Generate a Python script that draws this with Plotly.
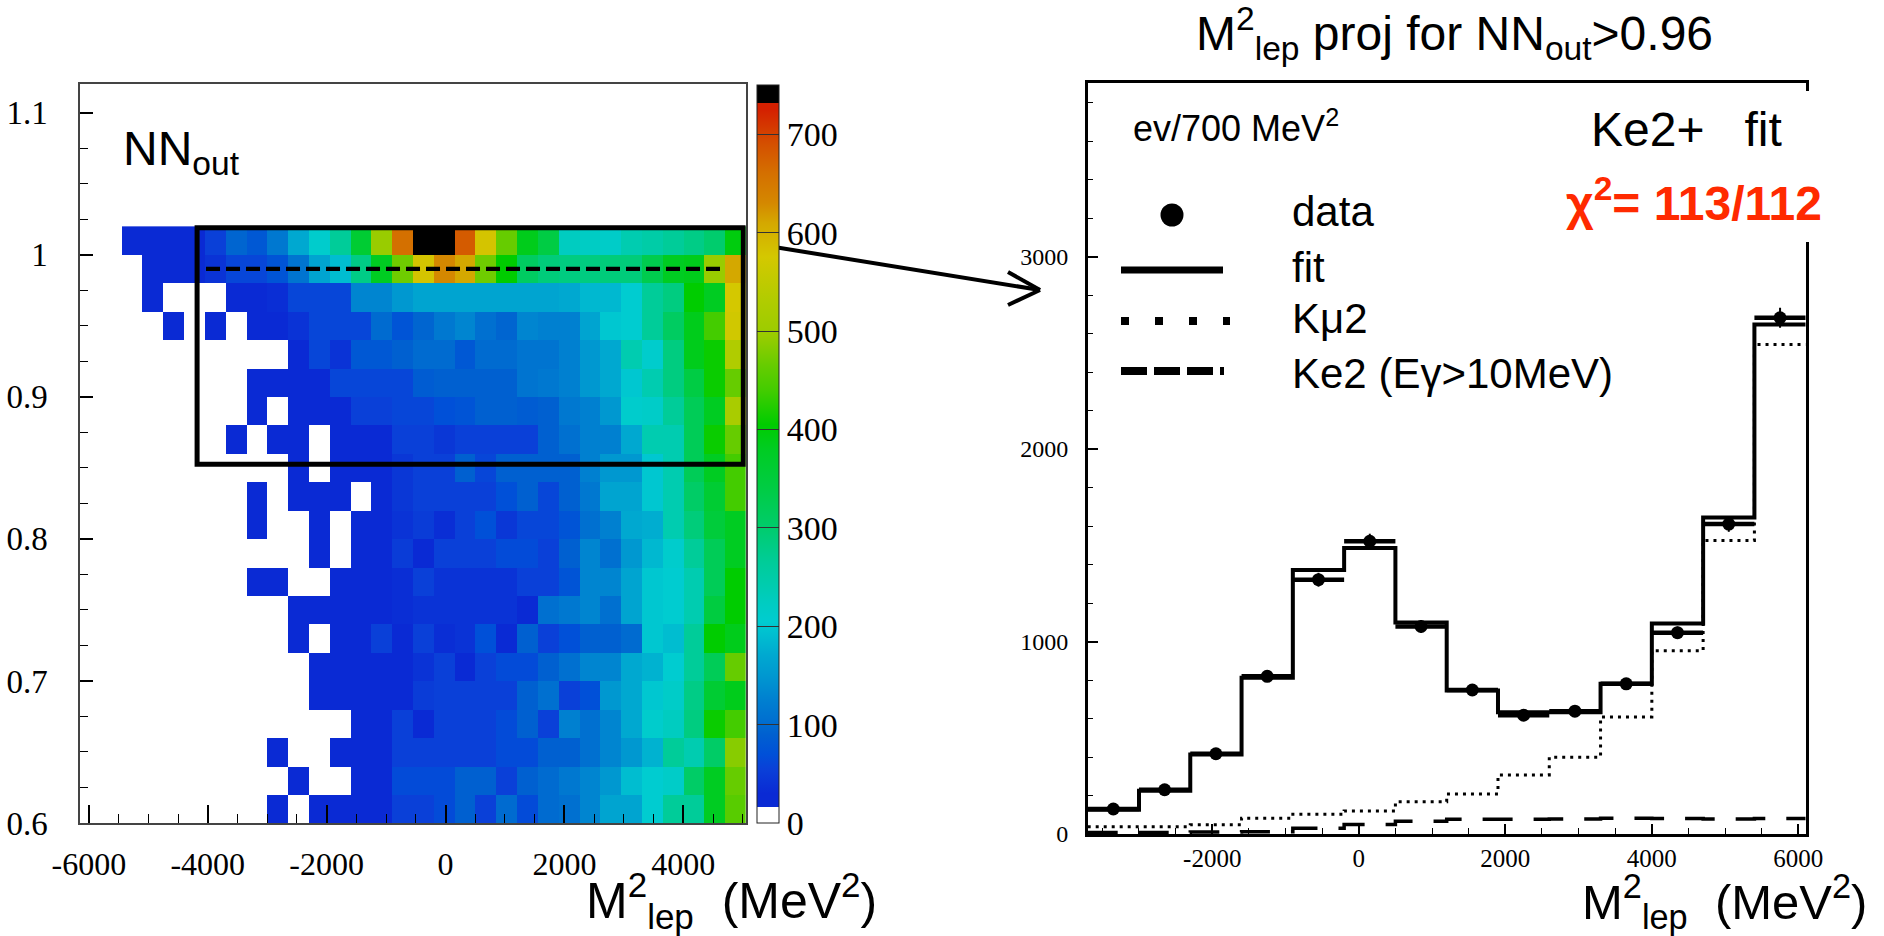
import plotly.graph_objects as go

W, H = 1884, 936


def px(x):
    return x / W


def py(y):
    return 1 - y / H


N = None
# ---------------- left panel: NN_out vs M2_lep (2D histogram) ----------------
m2_edges = [-6150, -5800, -5450, -5100, -4750, -4400, -4050, -3700, -3350, -3000,
            -2650, -2300, -1950, -1600, -1250, -900, -550, -200, 150, 500, 850,
            1200, 1550, 1900, 2250, 2600, 2950, 3300, 3650, 4000, 4350, 4700, 5050]
nn_edges = [0.60, 0.62, 0.64, 0.66, 0.68, 0.70, 0.72, 0.74, 0.76, 0.78, 0.80,
            0.82, 0.84, 0.86, 0.88, 0.90, 0.92, 0.94, 0.96, 0.98, 1.00, 1.02]

row00 = [N]*9 + [30, N, 30, 30, 30, 30, 55, 55, 65, 90, 55, 100, 65, 100, 105, 130, 165, 165, 205, 265, 265, 380, 455]
row01 = [N]*10 + [30, N, N, 30, 30, 65, 65, 65, 90, 90, 55, 90, 100, 115, 130, 150, 190, 205, 215, 305, 380, 465]
row02 = [N]*9 + [30, N, N, 30, 30, 30, 55, 55, 55, 55, 55, 65, 65, 90, 90, 105, 130, 150, 180, 265, 240, 305, 485]
row03 = [N]*13 + [30, 30, 55, 30, 55, 55, 55, 65, 90, 55, 125, 105, 130, 170, 210, 225, 285, 410, 440]
row04 = [N]*11 + [30, 30, 30, 30, 30, 50, 55, 55, 55, 55, 90, 105, 55, 70, 150, 170, 200, 215, 280, 360, 385]
row05 = [N]*11 + [30, 30, 30, 30, 30, 40, 55, 30, 55, 65, 65, 90, 105, 130, 130, 170, 180, 205, 265, 320, 465]
row06 = [N]*10 + [30, N, 30, 30, 55, 30, 55, 35, 40, 70, 30, 90, 55, 70, 90, 90, 100, 200, 190, 265, 405, 385]
row07 = [N]*10 + [30, 30, 30, 30, 30, 35, 40, 40, 40, 40, 40, 30, 105, 115, 130, 105, 165, 200, 205, 240, 345, 405]
row08 = [N]*8 + [30, 30, N, N, 30, 30, 30, 35, 55, 40, 40, 40, 40, 55, 55, 75, 130, 130, 165, 200, 205, 240, 320, 405]
row09 = [N]*11 + [30, N, 30, 30, 50, 30, 55, 55, 55, 65, 65, 55, 90, 130, 105, 150, 185, 210, 265, 320, 380]
row10 = [N]*8 + [30, N, N, 30, N, 30, 30, 40, 50, 35, 55, 70, 45, 60, 60, 75, 105, 125, 170, 175, 240, 290, 350, 380]
row11 = [N]*8 + [30, N, 30, 30, 30, N, 30, 45, 55, 55, 55, 55, 70, 90, 60, 90, 115, 165, 165, 200, 240, 305, 360, 440]
row12 = [N]*10 + [30, N, 30, 30, 30, 45, 55, 55, 90, 60, 90, 90, 90, 90, 125, 150, 150, 200, 240, 320, 380, 440]
row13 = [N]*7 + [30, N, 30, 30, N, 30, 30, 30, 55, 55, 45, 55, 55, 55, 55, 90, 105, 125, 125, 170, 240, 240, 320, 410, 465]
row14 = [N]*8 + [30, N, 30, 30, 30, 55, 55, 60, 60, 70, 75, 90, 90, 85, 90, 115, 125, 150, 210, 215, 265, 320, 380, 520]
row15 = [N]*8 + [30, 30, 30, 30, 60, 60, 60, 60, 85, 90, 90, 90, 90, 110, 115, 125, 150, 170, 200, 240, 285, 340, 410, 465]
row16 = [N]*10 + [30, 60, 40, 80, 80, 90, 100, 100, 80, 100, 100, 110, 110, 125, 150, 170, 240, 210, 285, 385, 410, 530]
row17 = [N]*4 + [30, N, 30, N, 30, 30, 40, 60, 60, 60, 100, 75, 95, 115, 130, 105, 95, 130, 125, 125, 165, 200, 205, 265, 310, 385, 440, 570]
row18 = [N]*3 + [30, N, N, N, 30, 30, 35, 60, 60, 60, 130, 130, 150, 165, 165, 165, 165, 165, 165, 165, 170, 185, 185, 205, 265, 285, 405, 380, 575]
row19 = [N]*3 + [30, 30, 30, 40, 60, 60, 75, 110, 165, 190, 280, 380, 470, 580, 630, 610, 470, 405, 310, 290, 285, 285, 290, 290, 330, 380, 385, 495, 610]
row20 = [N]*2 + [30, 30, 30, 30, 55, 95, 80, 115, 170, 210, 265, 360, 495, 660, 745, 745, 680, 580, 465, 385, 340, 225, 220, 215, 240, 250, 265, 280, 300, 395]

counts = [row00, row01, row02, row03, row04, row05, row06, row07, row08, row09, row10,
          row11, row12, row13, row14, row15, row16, row17, row18, row19, row20]

cbar_ticks = [0, 100, 200, 300, 400, 500, 600, 700]
left_xticks = [-6000, -4000, -2000, 0, 2000, 4000]
left_xticktext = ["-6000", "-4000", "-2000", "0", "2000", "4000"]
left_yticks = [0.6, 0.7, 0.8, 0.9, 1.0, 1.1]
left_yticktext = ["0.6", "0.7", "0.8", "0.9", "1", "1.1"]

# ---------------- right panel: projection for NN_out > 0.96 ----------------
proj_edges = [-3700, -3000, -2300, -1600, -900, -200, 500, 1200, 1900, 2600,
              3300, 4000, 4700, 5400, 6100]
proj_centers = [-3350, -2650, -1950, -1250, -550, 150, 850, 1550, 2250, 2950,
                3650, 4350, 5050, 5750]
data_counts = [130, 230, 417, 819, 1321, 1521, 1078, 748, 617, 638, 780, 1046, 1610, 2682]
data_errors = [11, 15, 20, 29, 36, 39, 33, 27, 25, 25, 28, 32, 40, 52]
fit_counts = [126, 225, 413, 812, 1371, 1486, 1099, 745, 633, 633, 780, 1094, 1644, 2647]
kmu2_counts = [38, 38, 48, 82, 102, 120, 168, 208, 307, 399, 608, 952, 1525, 2543]
ke2_counts = [8, 8, 10, 12, 30, 50, 66, 76, 76, 78, 82, 80, 78, 80]
half_bin = [350] * len(proj_centers)
right_xticks = [-2000, 0, 2000, 4000, 6000]
right_xticktext = ["-2000", "0", "2000", "4000", "6000"]
right_yticks = [0, 1000, 2000, 3000]

colorscale = [
    [0.0, "#ffffff"], [0.022, "#ffffff"], [0.0221, "#0a2ad4"], [0.04, "#0a2ad4"],
    [0.073, "#0a40d8"], [0.093, "#0050d8"], [0.12, "#0060d0"], [0.14, "#0070d0"],
    [0.167, "#0080d0"], [0.2, "#0098d0"], [0.227, "#00a8d0"], [0.247, "#00b8d0"],
    [0.273, "#00ccd0"], [0.3, "#00ccc0"], [0.32, "#00ccb0"], [0.353, "#00cc99"],
    [0.38, "#00cc80"], [0.407, "#00cc66"], [0.453, "#00cc44"], [0.507, "#00cc22"],
    [0.54, "#00cc00"], [0.587, "#44cc00"], [0.62, "#66cc00"], [0.66, "#99cc00"],
    [0.707, "#b0cc00"], [0.767, "#d4c800"], [0.813, "#d4a800"], [0.84, "#d48800"],
    [0.88, "#d47000"], [0.92, "#d45000"], [0.967, "#d42000"], [0.975, "#d42000"],
    [0.976, "#000000"], [1.0, "#000000"],
]

SERIF = "Liberation Serif, Times New Roman, serif"
SANS = "Liberation Sans, Arial, sans-serif"

fig = go.Figure()

fig.add_trace(go.Heatmap(
    x=m2_edges, y=nn_edges, z=counts, zmin=0, zmax=750,
    colorscale=colorscale, xaxis="x", yaxis="y", hoverongaps=False,
    colorbar=dict(
        x=px(757), xanchor="left", xpad=0, ypad=0,
        y=py(823), yanchor="bottom", len=(823 - 85) / H, lenmode="fraction",
        thickness=22, thicknessmode="pixels",
        outlinewidth=1, outlinecolor="#222",
        tickvals=cbar_ticks, ticks="inside", ticklen=22, tickwidth=1.2, tickcolor="#333",
        tickfont=dict(family=SERIF, size=34, color="black"),
    ),
))

# fit step
fig.add_trace(go.Scatter(
    x=proj_edges, y=fit_counts + [fit_counts[-1]], mode="lines", line_shape="hv",
    line=dict(color="black", width=4), xaxis="x2", yaxis="y2", name="fit"))
# K mu 2
fig.add_trace(go.Scatter(
    x=proj_edges, y=kmu2_counts + [kmu2_counts[-1]], mode="lines", line_shape="hv",
    line=dict(color="black", width=3, dash="3px,5px"), xaxis="x2", yaxis="y2", name="Kμ2"))
# Ke2
fig.add_trace(go.Scatter(
    x=proj_edges, y=ke2_counts + [ke2_counts[-1]], mode="lines", line_shape="hv",
    line=dict(color="black", width=3.5, dash="30px,21px"), xaxis="x2", yaxis="y2",
    name="Ke2 (Eγ>10MeV)"))
# data
fig.add_trace(go.Scatter(
    x=proj_centers, y=data_counts, mode="markers",
    marker=dict(color="black", size=13, symbol="circle"),
    error_x=dict(type="data", array=half_bin, color="black", thickness=4.5, width=0),
    error_y=dict(type="data", array=data_errors, color="black", thickness=2, width=0),
    xaxis="x2", yaxis="y2", name="data"))

axis_common = dict(showgrid=False, zeroline=False, showline=True, mirror=True,
                   ticks="inside", tickcolor="black", automargin=False)

fig.update_layout(
    width=W, height=H, margin=dict(l=0, r=0, t=0, b=0, pad=0, autoexpand=False),
    paper_bgcolor="white", plot_bgcolor="white", showlegend=False,
    xaxis=dict(domain=[px(80), px(745.7)], range=[-6150, 5050], anchor="y",
               tickvals=left_xticks, ticktext=left_xticktext, ticklen=18, tickwidth=1.5,
               ticklabelstandoff=12,
               minor=dict(dtick=500, tick0=0, ticklen=9, tickwidth=1.2, ticks="inside", tickcolor="black"),
               linecolor="#444", linewidth=1.5,
               tickfont=dict(family=SERIF, size=32, color="black"), **axis_common),
    yaxis=dict(domain=[py(823), py(84.3)], range=[0.6, 1.12], anchor="x",
               tickvals=left_yticks, ticktext=left_yticktext, ticklen=13, tickwidth=1.5,
               ticklabelstandoff=24,
               minor=dict(dtick=0.025, tick0=0.6, ticklen=8, tickwidth=1.2, ticks="inside", tickcolor="black"),
               linecolor="#444", linewidth=1.5,
               tickfont=dict(family=SERIF, size=33, color="black"), **axis_common),
    xaxis2=dict(domain=[px(1087.7), px(1805.7)], range=[-3700, 6100], anchor="y2",
                tickvals=right_xticks, ticktext=right_xticktext, ticklen=10, tickwidth=1.5,
                ticklabelstandoff=0,
                minor=dict(dtick=500, tick0=0, ticklen=6, tickwidth=1.2, ticks="inside", tickcolor="black"),
                linecolor="black", linewidth=2.5,
                tickfont=dict(family=SERIF, size=25, color="black"), **axis_common),
    yaxis2=dict(domain=[py(834), py(83.3)], range=[0, 3900], anchor="x2",
                tickvals=right_yticks, ticklen=11, tickwidth=1.5,
                ticklabelstandoff=12,
                minor=dict(dtick=200, tick0=0, ticklen=6, tickwidth=1.2, ticks="inside", tickcolor="black"),
                linecolor="black", linewidth=2.5,
                tickfont=dict(family=SERIF, size=24, color="black"), **axis_common),
)

shapes = [
    # selection box and NN cut line on the 2D plot
    dict(type="rect", xref="x", yref="y", x0=-4180, x1=5010, y0=0.8525, y1=1.019,
         line=dict(color="black", width=5)),
    dict(type="line", xref="x", yref="y", x0=-4030, x1=4643, y0=0.99, y1=0.99,
         line=dict(color="black", width=4.3, dash="14px,6px")),
    # arrow
    dict(type="line", xref="paper", yref="paper", x0=px(768), y0=py(246), x1=px(1040), y1=py(290),
         line=dict(color="black", width=4)),
    dict(type="line", xref="paper", yref="paper", x0=px(1040), y0=py(290), x1=px(1008), y1=py(272),
         line=dict(color="black", width=4)),
    dict(type="line", xref="paper", yref="paper", x0=px(1040), y0=py(290), x1=px(1008), y1=py(305),
         line=dict(color="black", width=4)),
    # white box behind the fit label
    dict(type="rect", xref="paper", yref="paper", x0=px(1560), x1=px(1840), y0=py(242), y1=py(91),
         fillcolor="white", line=dict(width=0)),
    # legend samples
    dict(type="circle", xref="paper", yref="paper", x0=px(1160.5), x1=px(1183.5),
         y0=py(226.5), y1=py(203.5), fillcolor="black", line=dict(width=0)),
    dict(type="line", xref="paper", yref="paper", x0=px(1121), x1=px(1223), y0=py(270), y1=py(270),
         line=dict(color="black", width=7)),
    dict(type="line", xref="paper", yref="paper", x0=px(1121), x1=px(1230), y0=py(321), y1=py(321),
         line=dict(color="black", width=8, dash="8px,26px")),
    dict(type="line", xref="paper", yref="paper", x0=px(1121), x1=px(1224), y0=py(371), y1=py(371),
         line=dict(color="black", width=8, dash="26px,7px")),
]
fig.update_layout(shapes=shapes)

NB = "\u00a0"


def ann(text, x, y, size, xanchor="left", color="black", family=SANS):
    return dict(text=text, x=px(x), y=py(y), xref="paper", yref="paper",
                xanchor=xanchor, yanchor="middle", showarrow=False,
                font=dict(family=family, size=size, color=color))


annotations = [
    ann("M<sup>2</sup><sub>lep</sub> proj for NN<sub>out</sub>>0.96", 1454, 34, 48, xanchor="center"),
    ann("NN<sub>out</sub>", 121, 152, 48),
    ann("M<sup>2</sup><sub>lep</sub>" + NB * 2 + "(MeV<sup>2</sup>)", 584, 900, 50),
    ann("M<sup>2</sup><sub>lep</sub>" + NB * 2 + "(MeV<sup>2</sup>)", 1580, 901, 49),
    ann("ev/700 MeV<sup>2</sup>", 1131, 126, 36),
    ann("Ke2+" + NB * 3 + "fit", 1589, 130, 48),
    ann("<b>χ<sup>2</sup>= 113/112</b>", 1564, 200, 48, color="#ff2a00"),
    ann("data", 1290, 212, 42),
    ann("fit", 1290, 267, 42),
    ann("Kμ2", 1290, 318, 42),
    ann("Ke2 (Eγ>10MeV)", 1290, 373, 42),
]
fig.update_layout(annotations=annotations)

fig.write_html("out.html")
